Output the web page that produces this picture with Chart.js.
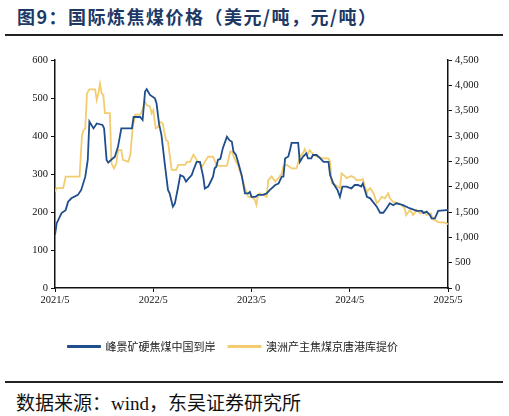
<!DOCTYPE html>
<html>
<head>
<meta charset="utf-8">
<script src="https://cdn.jsdelivr.net/npm/chart.js@4/dist/chart.umd.min.js"></script>
<style>
  html, body { margin: 0; padding: 0; background: #fff; }
  #wrap { position: relative; width: 509px; height: 416px; overflow: hidden; }
  #title {
    position: absolute; left: 17px; top: 3px;
    font-family: "Noto Sans CJK SC", sans-serif; font-weight: bold;
    font-size: 18px; letter-spacing: 1.5px; color: #203864; white-space: nowrap;
  }
  .rule { position: absolute; left: 5px; width: 498px; height: 2px; background: #222; }
  #source {
    position: absolute; left: 16px; top: 388px;
    font-family: "Liberation Serif", "Noto Sans CJK SC", serif;
    font-size: 19px; color: #111; white-space: nowrap;
  }
  #chart { position: absolute; left: 0; top: 0; }
</style>
</head>
<body>
<div id="wrap">
  <div id="title">图9：国际炼焦煤价格（美元/吨，元/吨）</div>
  <div class="rule" style="top:34px"></div>
  <canvas id="chart" width="509" height="380"></canvas>
  <div class="rule" style="top:381px"></div>
  <div id="source">数据来源：wind，东吴证券研究所</div>
</div>
<script>
// x ticks, one per year starting 2021/5 (x measured in months from 2021/5)
const tickLabels = ['2021/5', '2022/5', '2023/5', '2024/5', '2025/5'];
const seriesNames = ['峰景矿硬焦煤中国到岸', '澳洲产主焦煤京唐港库提价'];

// 峰景矿硬焦煤中国到岸 (USD/t, left axis)
const blueMonths = [0, 0.2, 0.8, 1.3, 1.6, 2.0, 2.8, 3.2, 3.7, 4.0, 4.2, 4.7, 5.1, 5.8, 6.0, 6.3, 6.5, 7.0, 7.3, 7.7,
  8.1, 9.4, 9.6, 10.4, 10.7, 11.0, 11.2, 11.6, 12.2, 12.4, 12.7, 13.0, 13.4, 13.8, 14.0, 14.4, 14.65, 15.05, 15.3, 15.7,
  16.0, 16.3, 16.7, 16.9, 17.3, 17.7, 18.1, 18.3, 18.7, 18.9, 19.3, 19.5, 19.7, 19.9, 20.2, 20.5, 21.0, 21.3, 21.6, 21.8,
  22.1, 22.4, 22.8, 23.2, 23.6, 23.8, 24.0, 24.5, 24.8, 25.4, 25.85, 26.25, 26.9, 27.3, 27.7, 27.9, 28.1, 28.5, 28.7, 28.9,
  29.7, 29.9, 30.3, 30.7, 30.9, 31.3, 31.5, 31.95, 32.4, 32.8, 33.4, 33.6, 34.0, 34.5, 34.8, 35.1, 35.6, 36.2, 36.6, 37.0,
  37.4, 37.6, 38.1, 38.5, 39.3, 39.7, 40.1, 40.5, 40.9, 41.3, 41.7, 42.1, 42.5, 43.3, 44.2, 44.8, 45.0, 45.4, 45.8, 46.0,
  46.4, 46.8, 47.8, 48];
const blueValues = [140, 170, 197, 205, 227, 236, 245, 258, 293, 337, 438, 420, 433, 429, 420, 337, 330, 340, 345, 372,
  420, 420, 450, 450, 442, 517, 523, 508, 499, 486, 433, 403, 328, 258, 249, 214, 223, 267, 297, 293,
  280, 288, 297, 310, 332, 332, 293, 262, 267, 275, 293, 315, 319, 337, 340, 368, 398, 389, 385, 359,
  350, 328, 297, 249, 249, 253, 240, 240, 245, 245, 249, 258, 271, 275, 293, 293, 341, 346, 363, 382,
  382, 332, 346, 354, 341, 341, 350, 350, 341, 332, 332, 297, 275, 258, 240, 267, 267, 262, 271, 271,
  267, 275, 240, 236, 214, 198, 198, 210, 223, 218, 223, 221, 218, 210, 203, 203, 197, 201, 192, 183,
  183, 203, 205, 205];

// 澳洲产主焦煤京唐港库提价 (CNY/t, right axis)
const yellowMonths = [0, 0.2, 1.0, 1.3, 3.0, 3.3, 3.5, 3.7, 3.9, 4.2, 4.9, 5.1, 5.3, 5.5, 5.7, 5.9, 6.1, 6.7, 6.9, 7.2,
  7.5, 7.7, 8.1, 8.3, 8.95, 9.2, 9.5, 9.8, 10.4, 10.6, 11.0, 11.2, 11.6, 11.8, 12.0, 12.3, 12.6, 12.8, 13.15, 13.55,
  13.8, 14.25, 14.8, 15.05, 15.9, 16.1, 16.5, 16.9, 17.3, 17.7, 18.0, 18.3, 18.7, 19.3, 19.7, 20.1, 21.0, 21.4, 21.6, 22.0,
  22.4, 22.8, 23.2, 23.6, 24.0, 24.2, 24.4, 24.6, 24.8, 25.0, 25.4, 25.85, 26.05, 26.45, 26.9, 27.3, 27.7, 27.9, 28.3, 28.9,
  29.5, 29.9, 30.3, 30.5, 30.8, 31.1, 31.7, 32.2, 32.7, 33.4, 33.6, 33.8, 34.3, 34.8, 35.0, 35.4, 35.6, 36.0, 36.2, 36.6,
  36.8, 37.4, 37.6, 37.8, 38.1, 38.2, 38.5, 38.9, 39.3, 39.5, 39.9, 40.3, 40.7, 40.9, 41.3, 41.9, 42.3, 42.7, 42.9, 43.35,
  43.75, 44.15, 44.6, 45.0, 45.4, 45.9, 46.1, 46.4, 46.8, 47.6, 48];
const yellowValues = [1900, 1970, 1970, 2200, 2200, 3020, 3120, 3150, 3840, 3920, 3920, 3710, 3840, 4030, 3840, 3810, 3450, 3450, 2460, 2360,
  2460, 2720, 2720, 2530, 2490, 2630, 3180, 3420, 3420, 3480, 3680, 3610, 3580, 3450, 3510, 3150, 3180, 3280, 3250, 2920,
  2890, 2330, 2330, 2430, 2430, 2490, 2490, 2630, 2530, 2460, 2400, 2490, 2590, 2590, 2430, 2410, 2410, 2690, 2690, 2530,
  2400, 2200, 1970, 1800, 1800, 1770, 1740, 1640, 1840, 1870, 1840, 1800, 2130, 2200, 2100, 2170, 2260, 2400, 2430, 2360,
  2360, 2590, 2660, 2740, 2620, 2720, 2610, 2590, 2560, 2560, 2490, 2070, 2030, 1970, 2260, 2210, 2170, 2200, 2210, 2170,
  2130, 2130, 2150, 2030, 1870, 1930, 1970, 1870, 1680, 1700, 1800, 1770, 1870, 1770, 1700, 1670, 1640, 1570, 1440, 1540,
  1440, 1540, 1470, 1510, 1440, 1470, 1360, 1340, 1300, 1290, 1260];

const toPoints = (xs, ys) => xs.map((x, i) => ({ x: x, y: ys[i] }));

const tickFont = { family: '"Liberation Serif", serif', size: 10.5 };
const axisColor = '#111';

const ctx = document.getElementById('chart').getContext('2d');
new Chart(ctx, {
  type: 'line',
  data: {
    datasets: [{
      label: seriesNames[0],
      data: toPoints(blueMonths, blueValues),
      borderColor: '#1f4e8c',
      backgroundColor: '#1f4e8c',
      borderWidth: 1.8,
      pointRadius: 0,
      tension: 0,
      yAxisID: 'y'
    }, {
      label: seriesNames[1],
      data: toPoints(yellowMonths, yellowValues),
      borderColor: '#f2cc6e',
      backgroundColor: '#f2cc6e',
      borderWidth: 1.8,
      pointRadius: 0,
      tension: 0,
      yAxisID: 'y1'
    }]
  },
  options: {
    responsive: false,
    animation: false,
    layout: { padding: { left: 0, right: 0, top: 60, bottom: 18 } },
    scales: {
      x: {
        type: 'linear',
        min: 0,
        max: 48,
        afterFit: (s) => { s.height = 40; },
        ticks: {
          stepSize: 12,
          autoSkip: false,
          maxRotation: 0,
          color: '#111',
          font: tickFont,
          padding: 2,
          callback: (v) => tickLabels[v / 12]
        },
        grid: { drawOnChartArea: false, drawTicks: true, tickLength: 4, color: axisColor },
        border: { display: true, color: axisColor, width: 1.5 }
      },
      y: {
        position: 'left',
        min: 0,
        max: 600,
        afterFit: (s) => { s.width = 55; },
        ticks: { stepSize: 100, color: '#111', font: tickFont, padding: 3 },
        grid: { drawOnChartArea: false, drawTicks: true, tickLength: 4, color: axisColor },
        border: { display: true, color: axisColor, width: 1.5 }
      },
      y1: {
        position: 'right',
        min: 0,
        max: 4500,
        afterFit: (s) => { s.width = 61; },
        ticks: {
          stepSize: 500,
          color: '#111',
          font: tickFont,
          padding: 3,
          callback: (v) => v.toLocaleString('en-US')
        },
        grid: { drawOnChartArea: false, drawTicks: true, tickLength: 4, color: axisColor },
        border: { display: true, color: axisColor, width: 1.5 }
      }
    },
    plugins: {
      legend: {
        position: 'bottom',
        align: 'start',
        fullSize: false,
        labels: {
          boxWidth: 32,
          boxHeight: 1,
          padding: 13,
          color: '#222',
          font: { family: '"Noto Sans CJK SC", sans-serif', size: 11 }
        }
      },
      tooltip: { enabled: false }
    }
  }
});
</script>
</body>
</html>
